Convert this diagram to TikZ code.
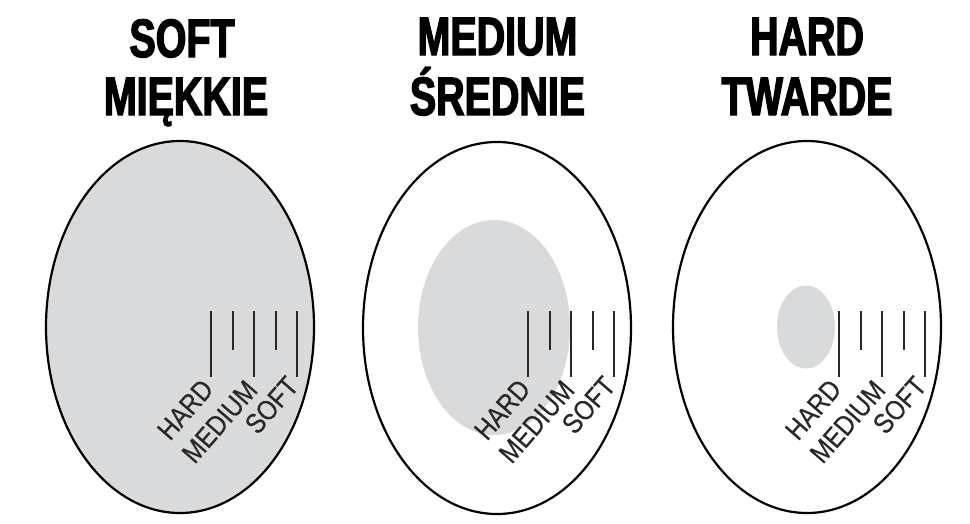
\documentclass[tikz,border=0pt]{standalone}
\usepackage{fontspec}
\setmainfont{Liberation Sans}
\newfontfamily\titlefont[FakeStretch=0.73,FakeBold=2.5]{Liberation Sans Bold}
\newfontfamily\labfont[FakeStretch=0.86,FakeBold=0.4]{Liberation Sans}
\usetikzlibrary{shapes.geometric}
\definecolor{fillgray}{RGB}{216,218,219}
\definecolor{inkgray}{RGB}{40,40,40}
\tikzset{
  outline/.style={ellipse,draw=black,line width=2.2pt,inner sep=0pt,minimum width=268pt,minimum height=372pt},
  core/.style={ellipse,fill=fillgray,draw=none,inner sep=0pt},
  tick/.style={draw=inkgray,line width=2pt},
  lab/.style={text=inkgray,font=\labfont\fontsize{28}{30}\selectfont,inner sep=0pt,rotate=49,anchor=base east},
  title/.style={font=\titlefont\fontsize{54}{58}\selectfont,text=black,inner sep=0pt,anchor=base}
}
\newcommand{\ticksat}[1]{%
  \draw[tick] (#1+31,311) -- (#1+31,377);
  \draw[tick] (#1+52.5,311) -- (#1+52.5,350);
  \draw[tick] (#1+74,311) -- (#1+74,377);
  \draw[tick] (#1+95.5,311) -- (#1+95.5,350);
  \draw[tick] (#1+117,311) -- (#1+117,377);
}
\begin{document}
\begin{tikzpicture}[x=1pt,y=-1pt]
\useasboundingbox (0,0) rectangle (970,523);
% ellipse 1 (soft)
\node[outline,fill=fillgray] (e1) at (180,327) {};
\ticksat{180}
\node[lab] (h1) at (215,390) {HARD};
\node[lab] (m1) at (259,391) {MEDIUM};
\node[lab] (s1) at (300,387) {SOFT};
\node[title] (t1a) at (182,57) {SOFT};
\node[title] (t1b) at (186,115) {MIĘKKIE};
% ellipse 2 (medium)
\node[outline] (e2) at (497,328) {};
\node[core,minimum width=152pt,minimum height=215pt] (c2) at (494,327.5) {};
\ticksat{497}
\node[lab] (h2) at (532,390) {HARD};
\node[lab] (m2) at (576,391) {MEDIUM};
\node[lab] (s2) at (617,387) {SOFT};
\node[title] (t2a) at (497.5,55) {MEDIUM};
\node[title] (t2b) at (497.5,115) {ŚREDNIE};
% ellipse 3 (hard)
\node[outline] (e3) at (807,327) {};
\node[core,minimum width=58pt,minimum height=83pt] (c3) at (806,327) {};
\ticksat{808}
\node[lab] (h3) at (843,390) {HARD};
\node[lab] (m3) at (887,391) {MEDIUM};
\node[lab] (s3) at (928,387) {SOFT};
\node[title] (t3a) at (807,55) {HARD};
\node[title] (t3b) at (807,115) {TWARDE};
\end{tikzpicture}
\end{document}
